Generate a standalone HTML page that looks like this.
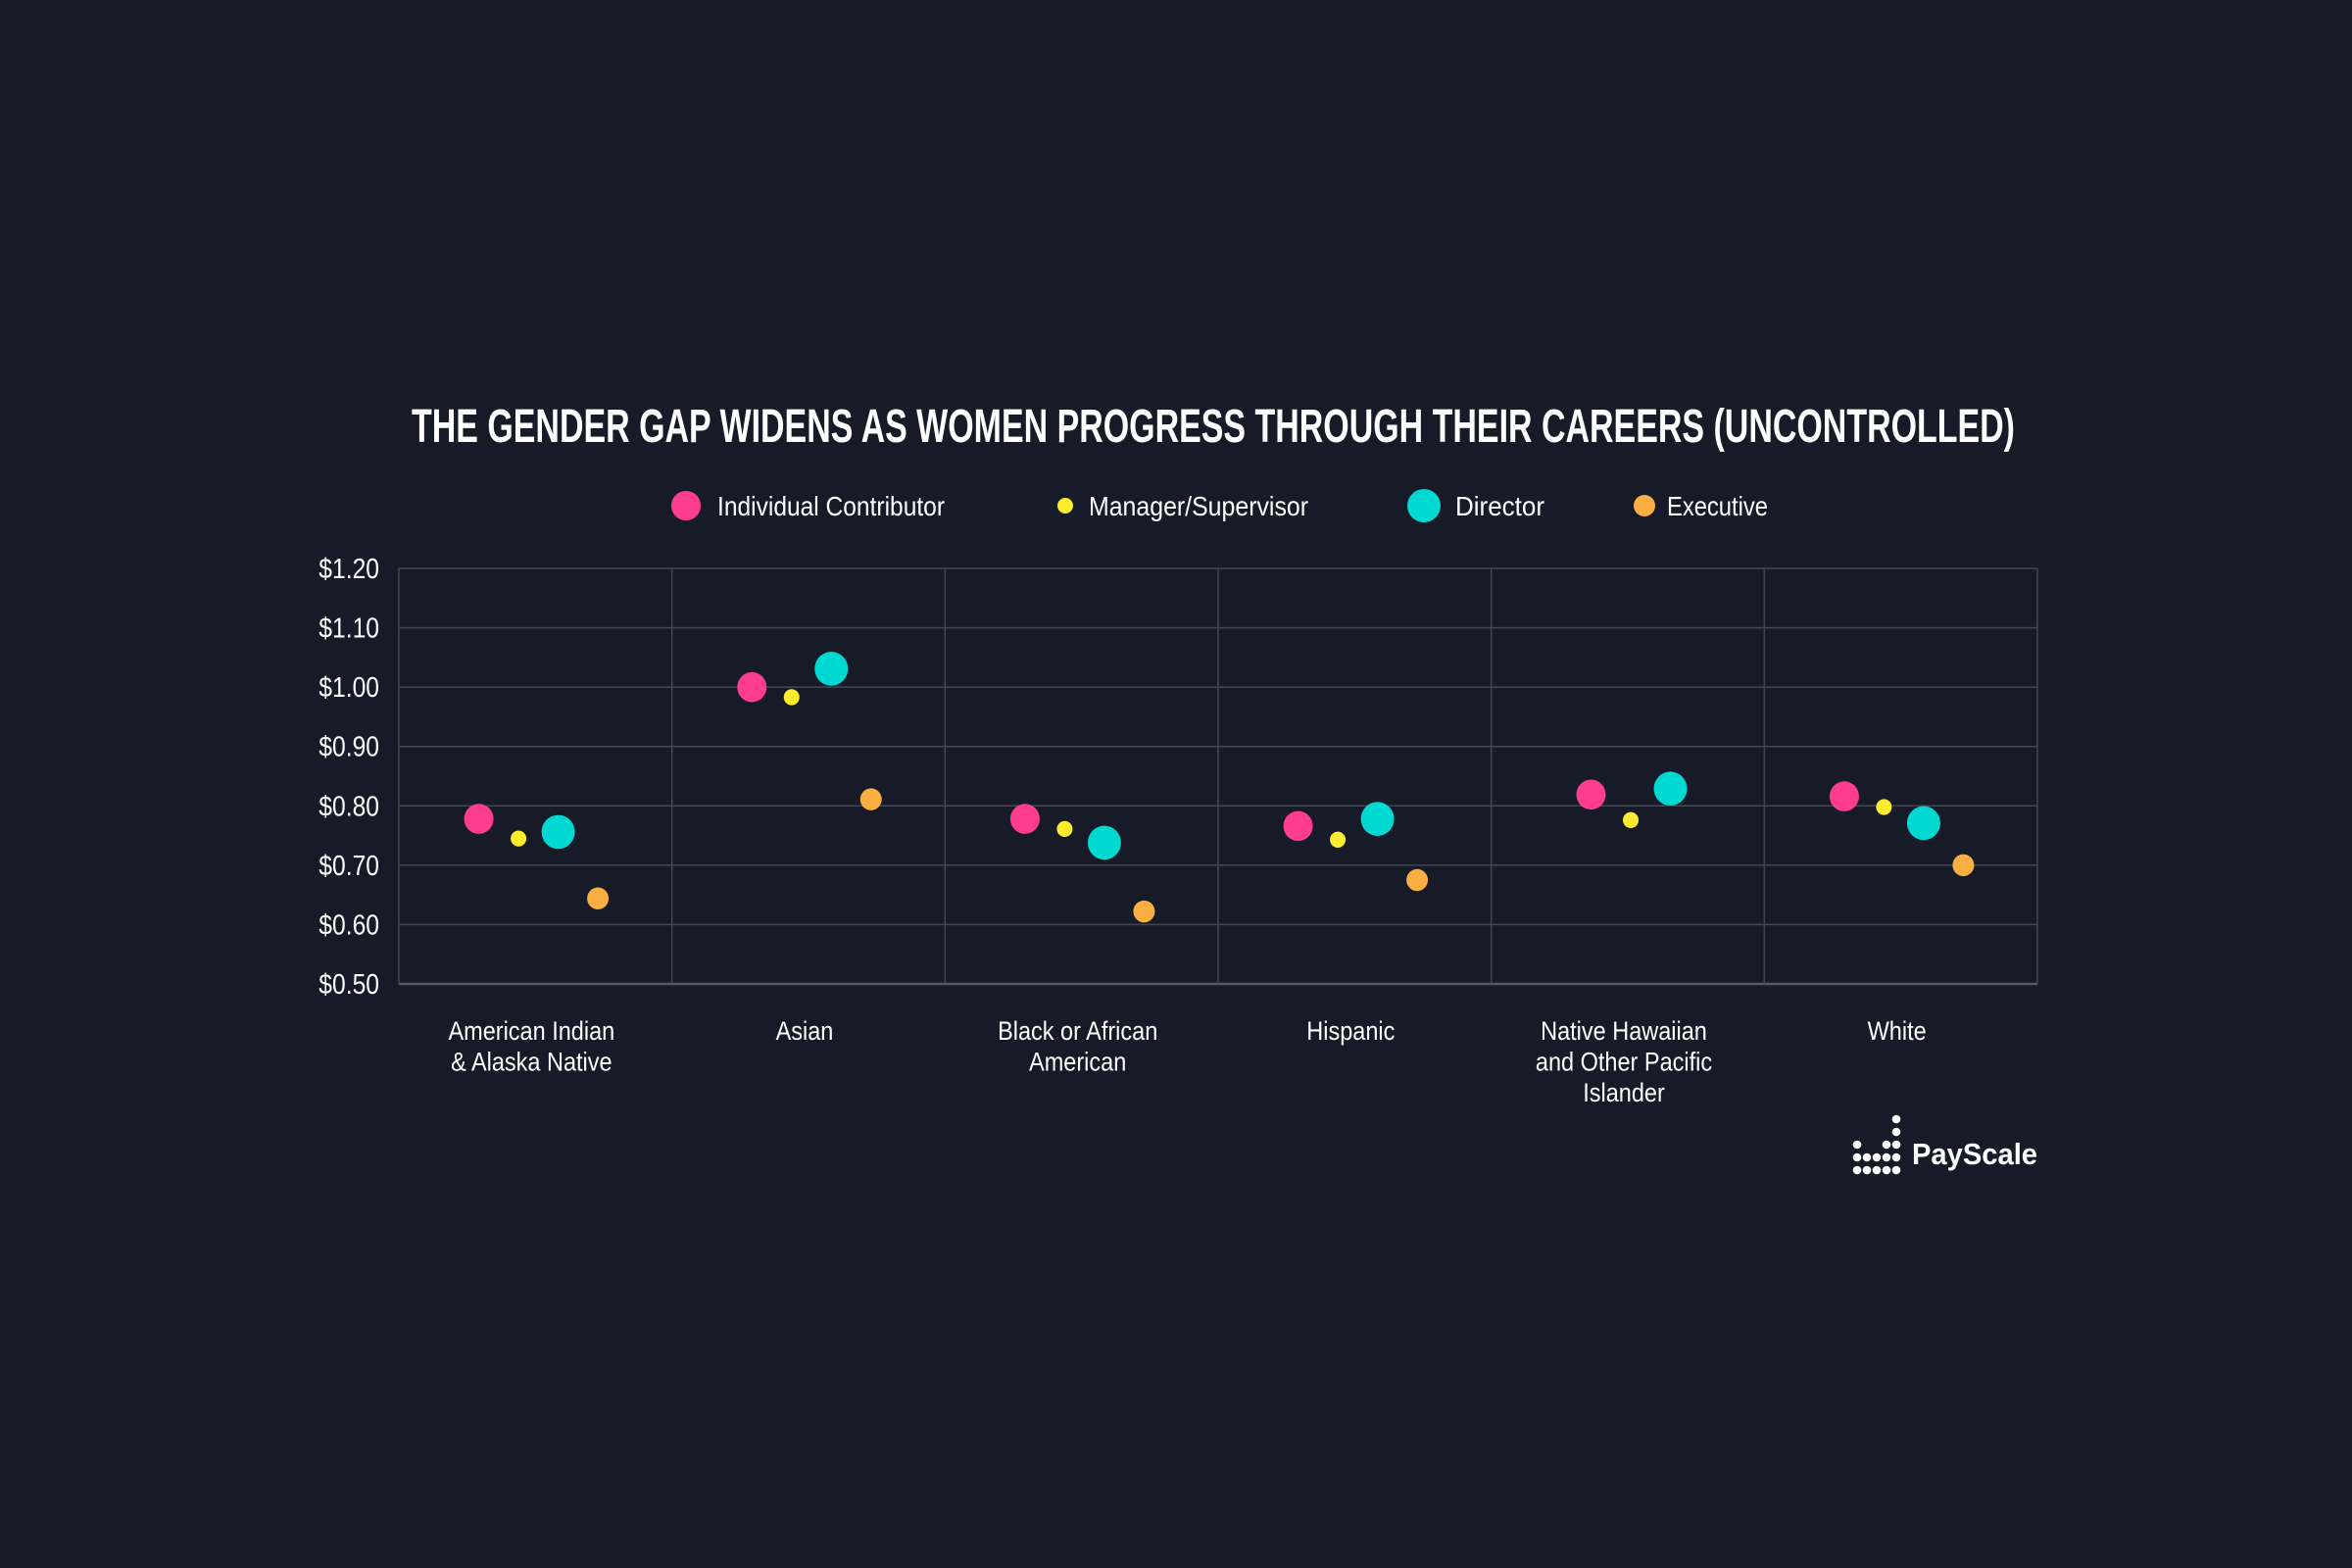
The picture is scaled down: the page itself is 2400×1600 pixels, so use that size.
<!DOCTYPE html>
<html><head><meta charset="utf-8">
<style>
html,body{margin:0;padding:0;background:#161b27;}
svg{display:block;font-family:"Liberation Sans Narrow","Liberation Sans",sans-serif;}
</style></head>
<body>
<svg id="chart" width="2400" height="1600" viewBox="0 0 2400 1600">
<rect width="2400" height="1600" fill="#161b27"/>
<text x="1238" y="451" text-anchor="middle" fill="#fff" font-family="Liberation Sans, sans-serif" font-weight="bold" font-size="48" textLength="1636" lengthAdjust="spacingAndGlyphs">THE GENDER GAP WIDENS AS WOMEN PROGRESS THROUGH THEIR CAREERS (UNCONTROLLED)</text>
<g id="legend"></g>
<g id="grid"></g>
<g id="yaxis"></g>
<g id="xaxis"></g>
<g id="marks"></g>
<g id="logo"></g>
</svg>
<script>
const categories = [["American Indian","& Alaska Native"],["Asian"],["Black or African","American"],["Hispanic"],["Native Hawaiian","and Other Pacific","Islander"],["White"]];
const seriesNames = ["Individual Contributor","Manager/Supervisor","Director","Executive"];
const individualContributor = [0.778,1.000,0.778,0.766,0.819,0.816];
const managerSupervisor = [0.745,0.983,0.761,0.743,0.776,0.798];
const director = [0.756,1.031,0.738,0.778,0.829,0.771];
const executive = [0.644,0.811,0.622,0.675,null,0.700];
const yTicks = [0.5,0.6,0.7,0.8,0.9,1.0,1.1,1.2];
const yTickLabels = ["$0.50","$0.60","$0.70","$0.80","$0.90","$1.00","$1.10","$1.20"];

const NS="http://www.w3.org/2000/svg";
const colors=["#ff3d8f","#ffec2e","#00d8d2","#fbae42"];
const radii=[15,8,17,11];
const L=407,R=2079,T=580,B=1004;
const yMin=0.5,yMax=1.2;
const colW=(R-L)/categories.length;
function yScale(v){return B-(v-yMin)/(yMax-yMin)*(B-T);}
function colCenter(i){return L+colW*(i+0.5);}
function mk(tag,attrs,parent){const e=document.createElementNS(NS,tag);for(const k in attrs)e.setAttribute(k,attrs[k]);parent.appendChild(e);return e;}
function condense(t,f){const w=t.getComputedTextLength();t.setAttribute('textLength',w*f);t.setAttribute('lengthAdjust','spacingAndGlyphs');}

const grid=document.getElementById('grid');
yTicks.forEach((t,i)=>{
  const ln=mk('line',{x1:L,x2:R,y1:yScale(t),y2:yScale(t),stroke:i===0?'#555a66':'#424753','stroke-width':i===0?2.5:1.5},grid);
  
  
});
for(let i=0;i<=categories.length;i++){
  const x=L+colW*i;
  const ln=mk('line',{x1:x,x2:x,y1:T,y2:B,stroke:'#424753','stroke-width':1.5},grid);
  
  
}
const yaxis=document.getElementById('yaxis');
yTicks.forEach((t,i)=>{
  const tx=mk('text',{x:387,y:yScale(t)+10,'text-anchor':'end',fill:'#fff','font-size':29},yaxis);
  tx.textContent=yTickLabels[i];
  
  
  condense(tx,0.85);
});
const xaxis=document.getElementById('xaxis');
categories.forEach((lines,i)=>{
  lines.forEach((s,j)=>{
    const tx=mk('text',{x:colCenter(i)-4,y:1061+j*31.5,'text-anchor':'middle',fill:'#fff','font-size':27},xaxis);
    tx.textContent=s;
    
    
    condense(tx,0.87);
  });
});
const marks=document.getElementById('marks');
const series=[individualContributor,managerSupervisor,director,executive];
categories.forEach((c,i)=>{
  const present=series.map((s,k)=>k).filter(k=>series[k][i]!=null);
  present.forEach((k,idx)=>{
    const x=colCenter(i)+3+(idx-(present.length-1)/2)*40.5;
    const ci=mk('ellipse',{cx:x,cy:yScale(series[k][i]),rx:radii[k],ry:radii[k]*1.02,fill:colors[k]},marks);
    
    
  });
});
const legend=document.getElementById('legend');
const legX=[700,1087,1453,1678],legTX=[732,1111,1485,1701],legW=[232,224,91,103];
seriesNames.forEach((n,k)=>{
  const c=mk('circle',{cx:legX[k],cy:516,r:radii[k],fill:colors[k]},legend);
  
  
  const t=mk('text',{x:legTX[k],y:526,fill:'#fff','font-size':28,textLength:legW[k],lengthAdjust:'spacingAndGlyphs'},legend);
  t.textContent=n;
  
  
});
const logo=document.getElementById('logo');
const dotCols=[1895,1905,1915,1925,1935],dotRows=[1142,1155,1168,1181,1194];
const pattern=[[0,0,0,0,1],[0,0,0,0,1],[1,0,0,1,1],[1,1,1,1,1],[1,1,1,1,1]];
pattern.forEach((row,r)=>row.forEach((on,c)=>{
  if(on){const d=mk('circle',{cx:dotCols[c],cy:dotRows[r],r:4.3,fill:'#fff'},logo);
  
  }
}));
const lt=mk('text',{x:1951,y:1188,fill:'#fff','font-size':31,'font-weight':'bold','font-family':'Liberation Sans, sans-serif',textLength:128,lengthAdjust:'spacingAndGlyphs'},logo);
lt.textContent='PayScale';


</script>
</body></html>
